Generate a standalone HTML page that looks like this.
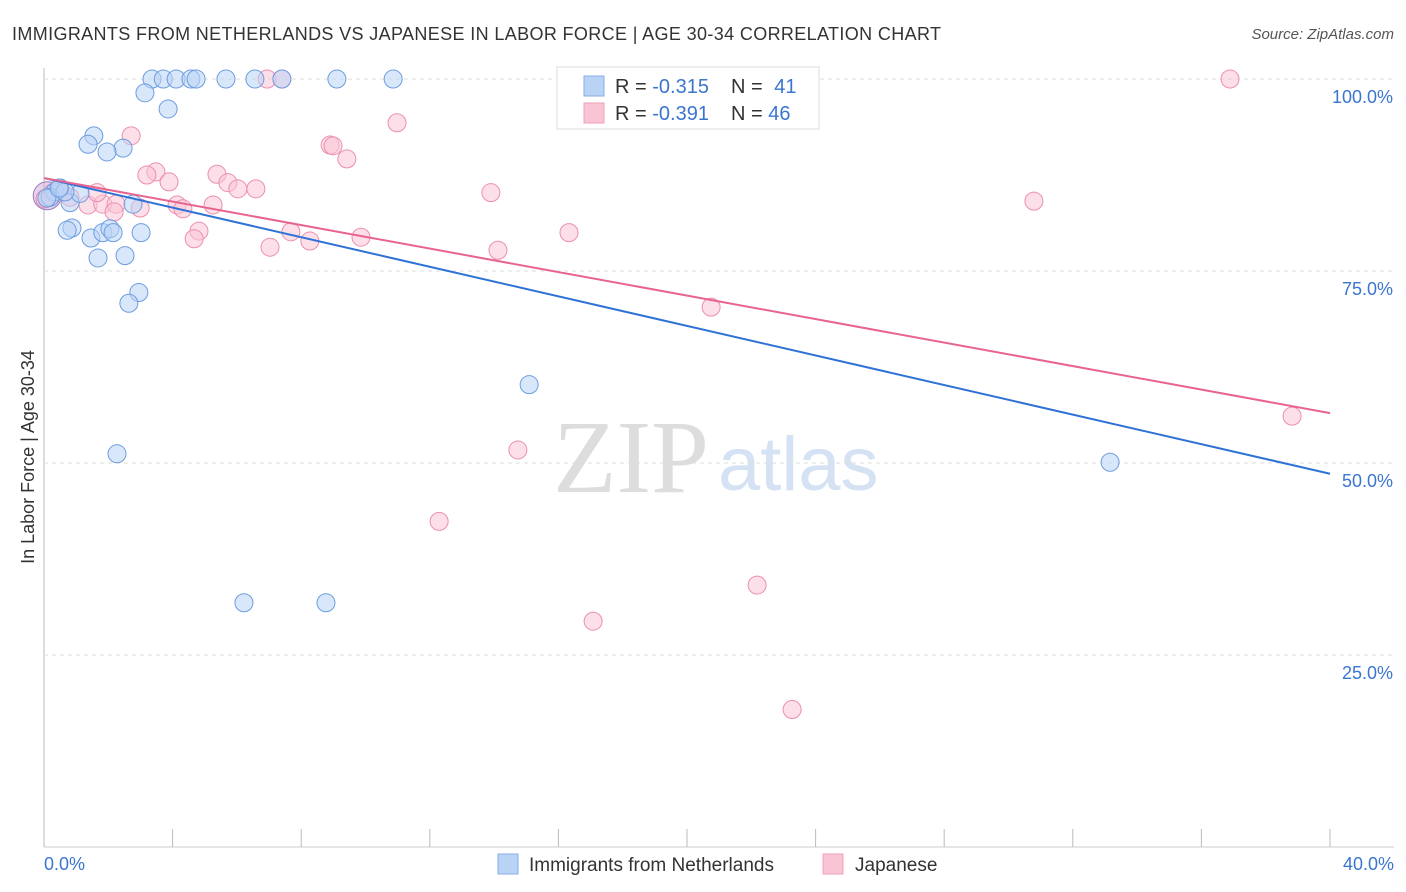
<!DOCTYPE html>
<html><head><meta charset="utf-8"><style>
body{margin:0;background:#fff;font-family:"Liberation Sans",sans-serif;}
#wrap{position:relative;width:1406px;height:892px;overflow:hidden;}
</style></head><body>
<div id="wrap">
<svg id="svg" width="1406" height="892" xmlns="http://www.w3.org/2000/svg" font-family="Liberation Sans, sans-serif">
<text x="12" y="40" font-size="18" fill="#333" textLength="929">IMMIGRANTS FROM NETHERLANDS VS JAPANESE IN LABOR FORCE | AGE 30-34 CORRELATION CHART</text>
<text x="1394" y="39" font-size="15" fill="#555" font-style="italic" text-anchor="end">Source: ZipAtlas.com</text>
<text x="34" y="457" font-size="18" fill="#333" text-anchor="middle" transform="rotate(-90 34 457)">In Labor Force | Age 30-34</text>
<text x="553" y="492" font-size="104" fill="#ddd" font-family="Liberation Serif, serif">ZIP</text>
<text x="718" y="490" font-size="76" fill="#d4e2f4">atlas</text>
<g id="grid"></g><g id="pts"></g><g id="lines"></g>
<g>
<rect x="557" y="67" width="262" height="62" fill="#fff" stroke="#ddd"/>
<rect x="584" y="76" width="20" height="20" fill="#b9d3f5" stroke="#86aee6"/>
<rect x="584" y="103" width="20" height="20" fill="#f9c5d5" stroke="#f0a0bb"/>
<text x="615" y="93" font-size="20" fill="#333">R = <tspan fill="#3a76d0">-0.315</tspan></text>
<text x="731" y="93" font-size="20" fill="#333">N = <tspan fill="#3a76d0" dx="6">41</tspan></text>
<text x="615" y="120" font-size="20" fill="#333">R = <tspan fill="#3a76d0">-0.391</tspan></text>
<text x="731" y="120" font-size="20" fill="#333">N = <tspan fill="#3a76d0">46</tspan></text>
</g>
<g>
<rect x="498" y="854" width="20" height="20" fill="#b9d3f5" stroke="#86aee6"/>
<text x="529" y="871" font-size="19" fill="#333">Immigrants from Netherlands</text>
<rect x="823" y="854" width="20" height="20" fill="#f9c5d5" stroke="#f0a0bb"/>
<text x="855" y="871" font-size="19" fill="#333">Japanese</text>
</g>
<text x="44" y="870" font-size="18" fill="#3a76d0">0.0%</text>
<text x="1394" y="870" font-size="18" fill="#3a76d0" text-anchor="end">40.0%</text>
</svg>
</div>
<script>
const yTicks=[100,75,50,25];
const xTicks=[0,4,8,12,16,20,24,28,32,36,40];
const blueX=[3.36,3.71,4.11,4.57,4.73,5.66,6.56,7.4,9.11,10.86,3.14,3.86,1.55,1.37,2.46,1.96,0.34,0.5,0.81,1.12,0.19,0.65,0.87,0.72,1.46,1.83,2.05,2.15,3.02,1.68,2.52,2.95,2.64,15.09,2.27,33.16,6.22,8.77,2.77,0.09,0.47];
const blueY=[100,100,100,100,100,100,100,100,100,100,98.2,96.1,92.6,91.5,91,90.5,85.3,85.8,83.9,85.1,84.6,85.3,80.6,80.3,79.3,80,80.5,80,80,76.7,77,72.2,70.8,60.2,51.2,50.1,31.8,31.8,83.7,84.5,85.8];
const pinkX=[16.52,36.89,6.94,7.4,2.71,10.98,8.9,8.99,9.42,3.48,3.2,3.89,5.38,5.72,6.59,6.03,13.9,30.79,1.37,1.83,2.24,2.99,4.14,4.32,5.26,2.18,4.82,7.68,4.67,8.27,9.86,7.03,14.12,16.33,20.75,38.82,14.74,12.29,22.18,17.08,23.27,0.5,0.81,0.28,1.65,0.03];
const pinkY=[100,100,100,100,92.6,94.3,91.4,91.3,89.6,87.9,87.5,86.6,87.6,86.5,85.7,85.7,85.2,84.1,83.6,83.7,83.7,83.2,83.6,83.1,83.6,82.7,80.2,80.1,79.2,78.9,79.4,78.1,77.7,80,70.3,56.1,51.7,42.4,34.1,29.4,17.9,85.2,84.6,85.2,85.2,84.4];
const blueTrend=[87.1,48.6];
const pinkTrend=[87.1,56.5];
const X=v=>44+v*32.15, Y=v=>847-v*7.68;
const NS="http://www.w3.org/2000/svg";
function mk(t,a,p){const e=document.createElementNS(NS,t);for(const k in a)e.setAttribute(k,a[k]);document.getElementById(p).appendChild(e);return e;}
mk('line',{x1:44,y1:68,x2:44,y2:847,stroke:'#bbb'},'grid');
mk('line',{x1:44,y1:847,x2:1394,y2:847,stroke:'#ccc'},'grid');
yTicks.forEach(t=>{
 const l=mk('line',{x1:44,y1:Y(t),x2:1394,y2:Y(t),stroke:'#ddd','stroke-dasharray':'4,4'},'grid');
 
 
 const tx=mk('text',{x:1393,y:Y(t)+24,'font-size':18,fill:'#3a76d0','text-anchor':'end'},'grid');
 tx.textContent=t.toFixed(1)+'%';
 
 
});
xTicks.forEach(t=>{
 const l=mk('line',{x1:X(t),y1:829,x2:X(t),y2:847,stroke:'#bbb'},'grid');
 
 
});
const big=mk('circle',{cx:X(0.1),cy:Y(84.8),r:14,fill:'#c9a9d6','fill-opacity':0.5,stroke:'#a07ac0'},'pts');


function pts(xs,ys,fill,stroke,name){xs.forEach((x,i)=>{
 const c=mk('circle',{cx:X(x),cy:Y(ys[i]),r:9,fill:fill,'fill-opacity':0.55,stroke:stroke,'stroke-width':1},'pts');
 
 
});}
pts(pinkX,pinkY,'#f9c5d5','#ec8fae','japanese-point');
pts(blueX,blueY,'#b9d3f5','#6d9de0','netherlands-point');
const b=mk('line',{x1:X(0),y1:Y(blueTrend[0]),x2:X(40),y2:Y(blueTrend[1]),stroke:'#2f72d6','stroke-width':2},'lines');


const p=mk('line',{x1:X(0),y1:Y(pinkTrend[0]),x2:X(40),y2:Y(pinkTrend[1]),stroke:'#e8648f','stroke-width':2},'lines');


</script>
</body></html>
